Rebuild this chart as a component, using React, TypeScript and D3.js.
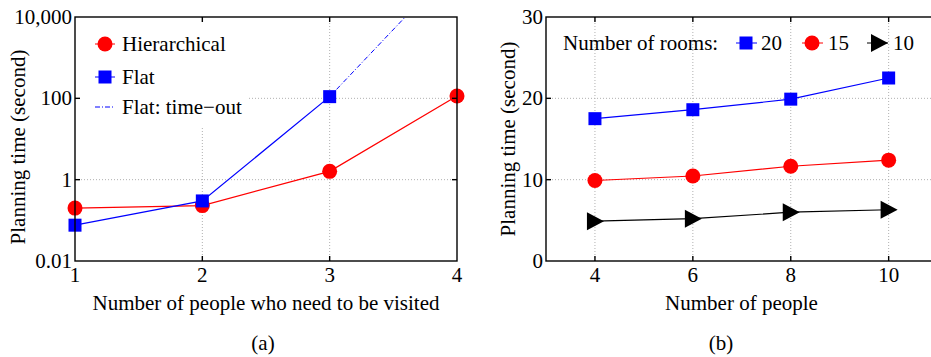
import React from 'react';
import * as d3 from 'd3';

// panel (a): planning time vs. number of people to visit (log scale)
const peopleVisited = [1, 2, 3, 4];
const hierarchical = [0.2, 0.23, 1.6, 114];
const flat = [0.076, 0.3, 110];
const timeoutX = [3, 4];
const timeoutY = [110, 220000];
const logTicks = [0.01, 1, 100, 10000];

// panel (b): planning time vs. number of people, by number of rooms
const people = [4, 6, 8, 10];
const rooms20 = [17.5, 18.6, 19.9, 22.5];
const rooms15 = [9.9, 10.45, 11.65, 12.4];
const rooms10 = [4.9, 5.2, 6.0, 6.3];
const linTicks = [0, 10, 20, 30];

const FONT = 'Liberation Serif, Times New Roman, Times, serif';
const FS = 21;
const BLUE = '#0000ff';
const RED = '#ff0000';
const textStyle = {fontFamily: FONT, fontSize: FS};

const Marker = ({kind, x, y, color}) => {
  if (kind === 'circle') return <circle cx={x} cy={y} r={7.5} fill={color} />;
  if (kind === 'square') return <rect x={x - 6.5} y={y - 6.5} width={13} height={13} fill={color} />;
  return <path d={`M${x - 8},${y - 9}L${x + 9},${y}L${x - 8},${y + 9}Z`} fill={color} />;
};

const Grid = ({xs, ys, xScale, yScale}) => (
  <g stroke="#b0b0b0" strokeWidth={1} strokeDasharray="1,2">
    {xs.map(v => <line key={'x' + v} x1={xScale(v)} x2={xScale(v)} y1={yScale.range()[0]} y2={yScale.range()[1]} />)}
    {ys.map(v => <line key={'y' + v} y1={yScale(v)} y2={yScale(v)} x1={xScale.range()[0]} x2={xScale.range()[1]} />)}
  </g>
);

const Frame = ({xScale, yScale, xs, ys}) => {
  const [x0, x1] = xScale.range();
  const [y0, y1] = yScale.range();
  return (
    <g stroke="#000" strokeWidth={1.4} fill="none">
      <rect x={x0} y={y1} width={x1 - x0} height={y0 - y1} />
      {xs.map(v => <g key={'tx' + v}>
        <line x1={xScale(v)} x2={xScale(v)} y1={y0} y2={y0 - 5} />
        <line x1={xScale(v)} x2={xScale(v)} y1={y1} y2={y1 + 5} />
      </g>)}
      {ys.map(v => <g key={'ty' + v}>
        <line y1={yScale(v)} y2={yScale(v)} x1={x0} x2={x0 + 5} />
        <line y1={yScale(v)} y2={yScale(v)} x1={x1} x2={x1 - 5} />
      </g>)}
    </g>
  );
};

const Series = ({xs, ys, xScale, yScale, color, kind}) => {
  const line = d3.line().x(d => xScale(d[0])).y(d => yScale(d[1]));
  const pts = ys.map((v, i) => [xs[i], v]);
  return (
    <g>
      <path d={line(pts)} stroke={color} strokeWidth={1.2} fill="none" />
      {pts.map((p, i) => <Marker key={i} kind={kind} x={xScale(p[0])} y={yScale(p[1])} color={color} />)}
    </g>
  );
};

const PanelA = () => {
  const xScale = d3.scaleLinear().domain([1, 4]).range([75, 457]);
  const yScale = d3.scaleLog().domain([0.01, 10000]).range([261, 17]);
  const timeoutLine = d3.line().x(d => xScale(d[0])).y(d => yScale(d[1]));
  const legendY = [44, 77, 107];
  return (
    <g>
      <defs>
        <clipPath id="clipA"><rect x={75} y={17} width={382} height={244} /></clipPath>
      </defs>
      <Grid xs={[2, 3]} ys={[1, 100]} xScale={xScale} yScale={yScale} />
      <rect x={76} y={18} width={172} height={109} fill="#fff" />
      <g clipPath="url(#clipA)">
        <path d={timeoutLine(timeoutX.map((x, i) => [x, timeoutY[i]]))} stroke={BLUE} strokeWidth={1} strokeDasharray="5,2,1,2" fill="none" />
      </g>
      <Series xs={peopleVisited} ys={hierarchical} xScale={xScale} yScale={yScale} color={RED} kind="circle" />
      <Series xs={peopleVisited} ys={flat} xScale={xScale} yScale={yScale} color={BLUE} kind="square" />
      <Frame xScale={xScale} yScale={yScale} xs={[2, 3]} ys={[1, 100]} />
      <g style={textStyle}>
        {peopleVisited.map(v => <text key={v} x={xScale(v)} y={282} textAnchor="middle">{v}</text>)}
        {logTicks.map(v => <text key={v} x={72} y={yScale(v) + 7} textAnchor="end">{d3.format(',')(v)}</text>)}
        <text x={266} y={310} textAnchor="middle">Number of people who need to be visited</text>
        <text transform="translate(25,147) rotate(-90)" textAnchor="middle">Planning time (second)</text>
        <text x={263} y={350} textAnchor="middle">(a)</text>
      </g>
      <g style={textStyle}>
        <line x1={95} x2={115} y1={legendY[0]} y2={legendY[0]} stroke={RED} />
        <Marker kind="circle" x={105} y={legendY[0]} color={RED} />
        <text x={122} y={legendY[0] + 7}>Hierarchical</text>
        <line x1={95} x2={115} y1={legendY[1]} y2={legendY[1]} stroke={BLUE} />
        <Marker kind="square" x={105} y={legendY[1]} color={BLUE} />
        <text x={122} y={legendY[1] + 7}>Flat</text>
        <line x1={95} x2={115} y1={legendY[2]} y2={legendY[2]} stroke={BLUE} strokeDasharray="5,2,1,2" />
        <text x={122} y={legendY[2] + 7}>Flat: time−out</text>
      </g>
    </g>
  );
};

const PanelB = () => {
  const xScale = d3.scaleLinear().domain([3, 11]).range([546, 937.6]);
  const yScale = d3.scaleLinear().domain([0, 30]).range([261, 17]);
  const ly = 43;
  return (
    <g>
      <Grid xs={people} ys={[10, 20]} xScale={xScale} yScale={yScale} />
      <Series xs={people} ys={rooms20} xScale={xScale} yScale={yScale} color={BLUE} kind="square" />
      <Series xs={people} ys={rooms15} xScale={xScale} yScale={yScale} color={RED} kind="circle" />
      <Series xs={people} ys={rooms10} xScale={xScale} yScale={yScale} color="#000" kind="triangle" />
      <Frame xScale={xScale} yScale={yScale} xs={people} ys={[10, 20]} />
      <g style={textStyle}>
        {people.map(v => <text key={v} x={xScale(v)} y={282} textAnchor="middle">{v}</text>)}
        {linTicks.map(v => <text key={v} x={543} y={yScale(v) + 7} textAnchor="end">{v}</text>)}
        <text x={741.5} y={310} textAnchor="middle">Number of people</text>
        <text transform="translate(515,139) rotate(-90)" textAnchor="middle">Planning time (second)</text>
        <text x={721} y={350} textAnchor="middle">(b)</text>
      </g>
      <g style={textStyle}>
        <text x={563} y={ly + 7}>Number of rooms:</text>
        <line x1={736} x2={757} y1={ly} y2={ly} stroke={BLUE} />
        <Marker kind="square" x={746} y={ly} color={BLUE} />
        <text x={761} y={ly + 7}>20</text>
        <line x1={802} x2={823} y1={ly} y2={ly} stroke={RED} />
        <Marker kind="circle" x={812} y={ly} color={RED} />
        <text x={828} y={ly + 7}>15</text>
        <line x1={867} x2={888} y1={ly} y2={ly} stroke="#000" />
        <Marker kind="triangle" x={879} y={ly} color="#000" />
        <text x={893} y={ly + 7}>10</text>
      </g>
    </g>
  );
};

export default function App() {
  return (
    <svg width={931} height={357} viewBox="0 0 931 357"
      style={{position: 'absolute', left: 0, top: 0, background: '#fff'}}>
      <PanelA />
      <PanelB />
    </svg>
  );
}
